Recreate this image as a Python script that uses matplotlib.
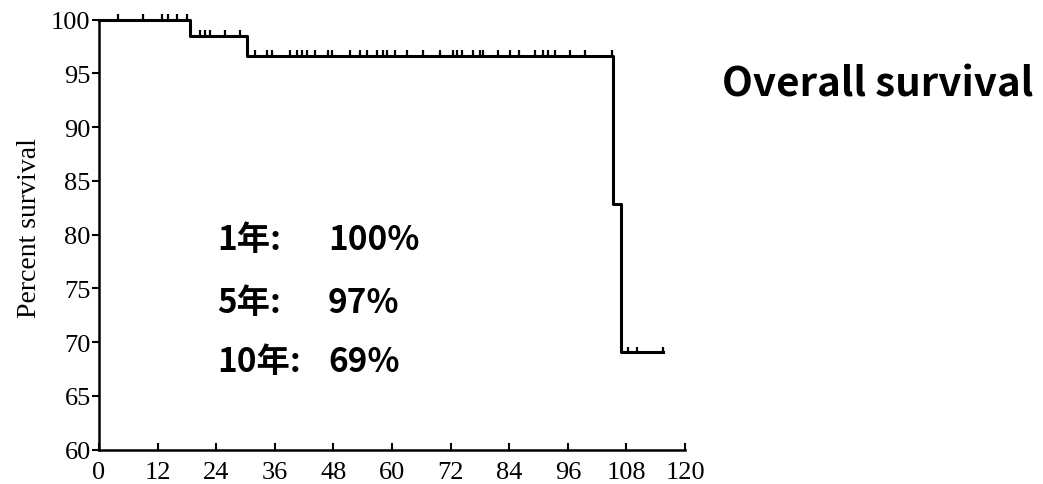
import matplotlib
matplotlib.use("Agg")
import matplotlib.pyplot as plt
import numpy as np

# Kaplan-Meier steps (months, percent survival)
step_times = [0, 18.6, 30.3, 105.3, 106.8]
step_surv = [100.0, 98.5, 96.65, 82.9, 69.1]
end_time = 115.4

# censored observations (months)
censor_times = [3.9, 9.0, 12.9, 14.1, 16.0, 18.0,
                20.7, 21.7, 22.7, 25.8, 28.9,
                32.0, 34.4, 35.5, 39.1, 40.6, 41.6, 42.6, 44.3, 46.9, 47.7,
                51.4, 53.5, 54.9, 57.0, 58.2, 59.0, 60.7, 63.1, 66.4, 69.9,
                72.5, 73.4, 74.4, 76.6, 78.0, 78.7, 81.8, 84.2, 85.9, 89.3,
                90.9, 92.0, 93.4, 96.5, 99.6, 105.0,
                108.4, 110.2, 115.4]

year_labels = ["1年:", "5年:", "10年:"]
year_values = ["100%", "97%", "69%"]

x_ticks = list(range(0, 121, 12))
y_ticks = list(range(60, 101, 5))

serif = "Liberation Serif"
jp = ["Noto Sans CJK JP", "DejaVu Sans"]

fig = plt.figure(figsize=(10.43, 4.85), dpi=100)
ax = fig.add_axes([0.0949, 0.0707, 0.5619, 0.8866])

xs = step_times + [end_time]
ys = step_surv + [step_surv[-1]]
ax.step(xs, ys, where="post", color="black", lw=2.2, clip_on=False, zorder=3)

# censor ticks sit on the curve level at that time
idx = np.searchsorted(step_times, censor_times, side="right") - 1
levels = np.array(step_surv)[idx]
ax.vlines(censor_times, levels, levels + 0.5, color="black", lw=1.6, clip_on=False, zorder=3)

ax.set_xlim(0, 120)
ax.set_ylim(60, 100)
ax.set_xticks(x_ticks)
ax.set_yticks(y_ticks)
for s in ["top", "right"]:
    ax.spines[s].set_visible(False)
for s in ["left", "bottom"]:
    ax.spines[s].set_linewidth(1.8)

ax.tick_params(axis="y", direction="out", length=5, width=1.5, pad=1)
ax.tick_params(axis="x", direction="in", length=5, width=1.5, pad=8)
for lab in ax.get_xticklabels() + ax.get_yticklabels():
    lab.set_fontfamily(serif)
    lab.set_fontsize(19)

ax.set_ylabel("Percent survival", family=serif, fontsize=20)
ax.yaxis.set_label_coords(-0.097, 0.518)

rows_y = [78.7, 72.8, 67.3]
for lbl, val, yy in zip(year_labels, year_values, rows_y):
    ax.text(24.2, yy, lbl, family=jp, fontsize=24, fontweight="bold", va="baseline")
    ax.text(46.9, yy, val, family=jp, fontsize=24, fontweight="bold", va="baseline")

fig.text(0.692, 0.8006, "Overall survival", family=jp, fontsize=29,
         fontweight="bold", va="baseline")

fig.savefig("out.png", dpi=100)
